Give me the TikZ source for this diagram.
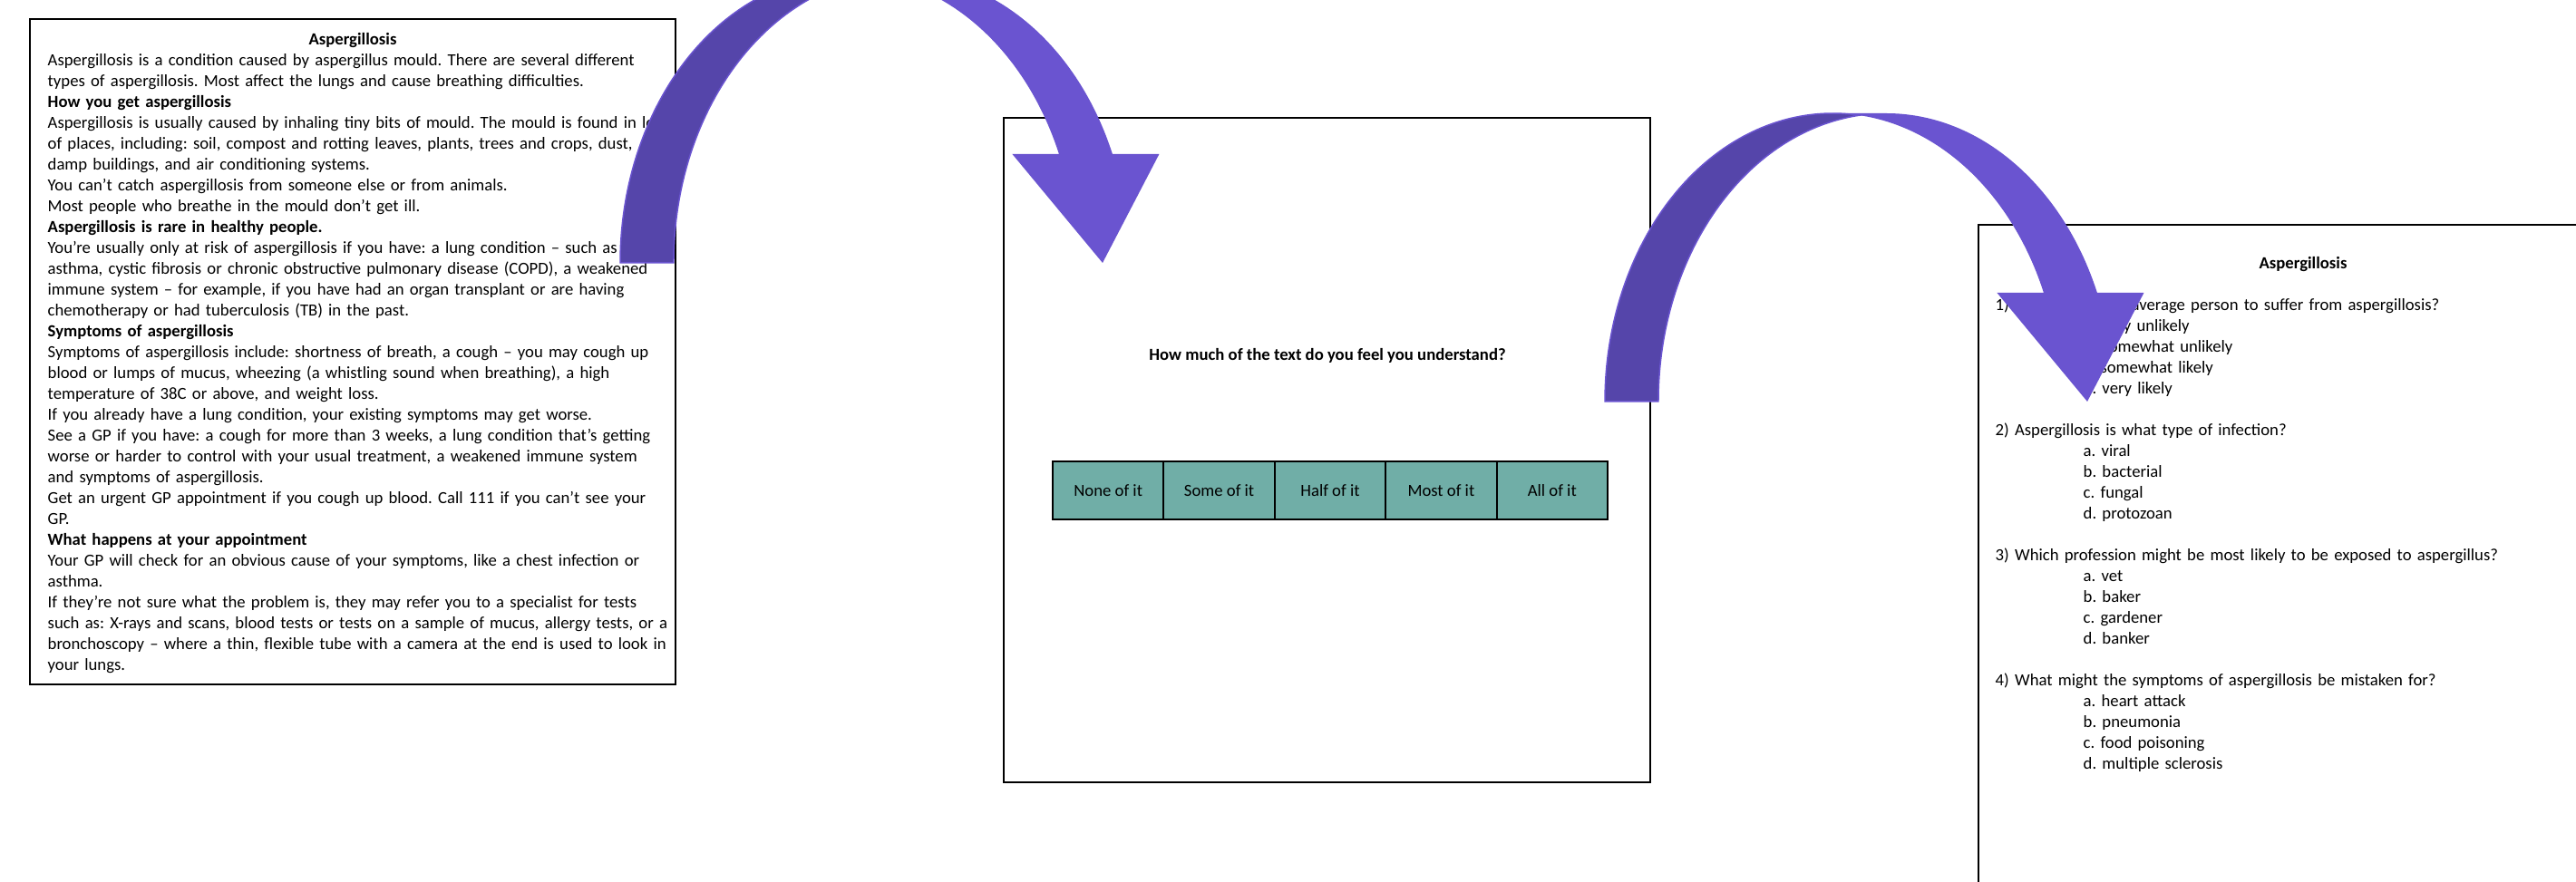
\documentclass[tikz,border=0pt]{standalone}
\usepackage{fontspec}
\setmainfont{Carlito}
\usetikzlibrary{positioning}
\definecolor{arrowlight}{RGB}{106,84,208}
\definecolor{arrowdark}{RGB}{85,69,170}
\definecolor{rateteal}{RGB}{112,174,167}
\newcommand{\boxfont}{\fontsize{5.32}{6.544}\selectfont\frenchspacing}
\newcommand{\opt}{\hspace*{0.97cm}}

\tikzset{
  panel/.style={draw, line width=0.02cm, anchor=north west, inner sep=0, outer sep=0},
  headline/.style={font=\boxfont\bfseries, anchor=base, inner sep=0},
  bodytext/.style={font=\boxfont, align=left, inner sep=0, anchor=base west, text width=7.6cm},
  ratebox/.style={draw, line width=0.02cm, fill=rateteal, font=\boxfont,
    minimum width=1.224cm, minimum height=0.64cm, inner sep=0, outer sep=0},
  bendarrow/.pic={
    % back part (darker)
    \filldraw[fill=arrowdark, draw=arrowlight, line width=0.015cm]
      (0,0) arc[start angle=180, end angle=83.26, x radius=2.5125, y radius=3.18]
      arc[start angle=96.74, end angle=180, x radius=2.5125, y radius=3.18] -- cycle;
    % front part with head
    \fill[arrowlight] (5.32,0) -- (4.3243,1.2) -- (4.8393,1.2)
      arc[start angle=22.17, end angle=90, x radius=2.5125, y radius=3.18]
      -- (3.1025,3.18)
      arc[start angle=90, end angle=22.17, x radius=2.5125, y radius=3.18]
      -- (5.9443,1.2) -- cycle;
  }
}

\begin{document}
\begin{tikzpicture}
\useasboundingbox (0,0) rectangle (28.41,9.73);
\clip (0,0) rectangle (28.41,9.73);

% reading text
\node[panel, minimum width=7.12cm, minimum height=7.34cm] (infopanel) at (0.33,9.52) {};
\node[headline] (infotitle) at (3.89,9.23) {Aspergillosis};
\node[bodytext] (infotext) at (0.52,9.00) {%
Aspergillosis is a condition caused by aspergillus mould. There are several different\\
types of aspergillosis. Most affect the lungs and cause breathing difficulties.\\
\textbf{How you get aspergillosis}\\
Aspergillosis is usually caused by inhaling tiny bits of mould. The mould is found in lots\\
of places, including: soil, compost and rotting leaves, plants, trees and crops, dust,\\
damp buildings, and air conditioning systems.\\
You can't catch aspergillosis from someone else or from animals.\\
Most people who breathe in the mould don't get ill.\\
\textbf{Aspergillosis is rare in healthy people.}\\
You're usually only at risk of aspergillosis if you have: a lung condition – such as\\
asthma, cystic fibrosis or chronic obstructive pulmonary disease (COPD), a weakened\\
immune system – for example, if you have had an organ transplant or are having\\
chemotherapy or had tuberculosis (TB) in the past.\\
\textbf{Symptoms of aspergillosis}\\
Symptoms of aspergillosis include: shortness of breath, a cough – you may cough up\\
blood or lumps of mucus, wheezing (a whistling sound when breathing), a high\\
temperature of 38C or above, and weight loss.\\
If you already have a lung condition, your existing symptoms may get worse.\\
See a GP if you have: a cough for more than 3 weeks, a lung condition that's getting\\
worse or harder to control with your usual treatment, a weakened immune system\\
and symptoms of aspergillosis.\\
Get an urgent GP appointment if you cough up blood. Call 111 if you can't see your\\
GP.\\
\textbf{What happens at your appointment}\\
Your GP will check for an obvious cause of your symptoms, like a chest infection or\\
asthma.\\
If they're not sure what the problem is, they may refer you to a specialist for tests\\
such as: X-rays and scans, blood tests or tests on a sample of mucus, allergy tests, or a\\
bronchoscopy – where a thin, flexible tube with a camera at the end is used to look in\\
your lungs.};

% rating
\node[panel, minimum width=7.13cm, minimum height=7.33cm] (ratepanel) at (11.07,8.43) {};
\node[headline] (question) at (14.64,5.75) {How much of the text do you feel you understand?};
\node[ratebox, anchor=west] (none) at (11.61,4.32) {None of it};
\node[ratebox, right=0pt of none] (some) {Some of it};
\node[ratebox, right=0pt of some] (half) {Half of it};
\node[ratebox, right=0pt of half] (most) {Most of it};
\node[ratebox, right=0pt of most] (all) {All of it};

% quiz
\node[panel, minimum width=7.5cm, minimum height=8cm] (quizpanel) at (21.82,7.25) {};
\node[headline] (quiztitle) at (25.40,6.76) {Aspergillosis};
\node[bodytext] (quiztext) at (22.00,6.30) {%
1) How likely is an average person to suffer from aspergillosis?\\
\opt a. very unlikely\\
\opt b. somewhat unlikely\\
\opt c. somewhat likely\\
\opt d. very likely\\[0.23cm]
2) Aspergillosis is what type of infection?\\
\opt a. viral\\
\opt b. bacterial\\
\opt c. fungal\\
\opt d. protozoan\\[0.23cm]
3) Which profession might be most likely to be exposed to aspergillus?\\
\opt a. vet\\
\opt b. baker\\
\opt c. gardener\\
\opt d. banker\\[0.23cm]
4) What might the symptoms of aspergillosis be mistaken for?\\
\opt a. heart attack\\
\opt b. pneumonia\\
\opt c. food poisoning\\
\opt d. multiple sclerosis};

% arrows
\pic at (6.84,6.83) {bendarrow};
\pic at (17.70,5.30) {bendarrow};
\end{tikzpicture}
\end{document}
